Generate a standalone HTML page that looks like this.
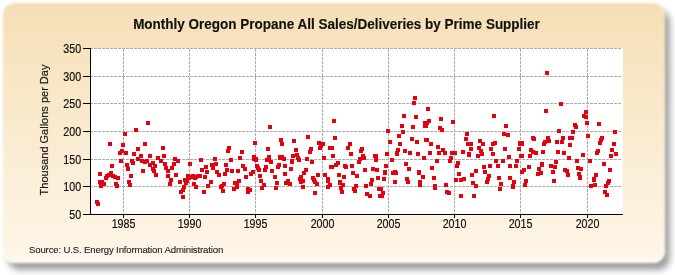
<!DOCTYPE html>
<html><head><meta charset="utf-8"><style>
html,body{margin:0;padding:0;background:#fff;width:675px;height:275px;overflow:hidden}
.box{position:absolute;left:3px;top:3px;width:662px;height:260px;border-radius:12px;
background:linear-gradient(to bottom,#f6dfb6 0%,#faebd0 50%,#fff5e6 95%,#fffaf0 100%);
box-shadow:5px 7px 6px rgba(0,0,0,0.38);filter:blur(1.3px)}
svg{position:absolute;left:0;top:0;will-change:transform}
.n{font-family:"Liberation Sans",sans-serif;font-size:12px;fill:#111;stroke:#111;stroke-width:0.2px}
.t{font-family:"Liberation Sans",sans-serif;font-size:11px;fill:#1a1a1a;stroke:#1a1a1a;stroke-width:0.2px}
.title{font-family:"Liberation Sans",sans-serif;font-size:14px;font-weight:bold;fill:#111;stroke:#111;stroke-width:0.15px}
.src{font-family:"Liberation Sans",sans-serif;font-size:9.6px;letter-spacing:-0.15px;fill:#1a1a1a;stroke:#1a1a1a;stroke-width:0.1px}
</style></head><body>
<div class="box"></div>
<svg width="675" height="275" viewBox="0 0 675 275" shape-rendering="crispEdges">
<text transform="translate(336.5,28.8) scale(0.964,1)" text-anchor="middle" class="title">Monthly Oregon Propane All Sales/Deliveries by Prime Supplier</text>
<text transform="translate(48,130) rotate(-90)" text-anchor="middle" class="t">Thousand Gallons per Day</text>
<text x="29" y="252.8" class="src">Source: U.S. Energy Information Administration</text>
<rect x="91" y="48" width="532" height="166" fill="#fff"/>
<line x1="91" y1="48.5" x2="622" y2="48.5" stroke="#acacac" stroke-width="1" stroke-dasharray="3,1" stroke-dashoffset="1"/>
<line x1="91" y1="76.5" x2="622" y2="76.5" stroke="#acacac" stroke-width="1" stroke-dasharray="3,1" stroke-dashoffset="1"/>
<line x1="91" y1="103.5" x2="622" y2="103.5" stroke="#acacac" stroke-width="1" stroke-dasharray="3,1" stroke-dashoffset="1"/>
<line x1="91" y1="131.5" x2="622" y2="131.5" stroke="#acacac" stroke-width="1" stroke-dasharray="3,1" stroke-dashoffset="1"/>
<line x1="91" y1="159.5" x2="622" y2="159.5" stroke="#acacac" stroke-width="1" stroke-dasharray="3,1" stroke-dashoffset="1"/>
<line x1="91" y1="186.5" x2="622" y2="186.5" stroke="#acacac" stroke-width="1" stroke-dasharray="3,1" stroke-dashoffset="1"/>
<line x1="123.5" y1="49" x2="123.5" y2="214" stroke="#acacac" stroke-width="1" stroke-dasharray="3,1"/>
<line x1="189.5" y1="49" x2="189.5" y2="214" stroke="#acacac" stroke-width="1" stroke-dasharray="3,1"/>
<line x1="255.5" y1="49" x2="255.5" y2="214" stroke="#acacac" stroke-width="1" stroke-dasharray="3,1"/>
<line x1="322.5" y1="49" x2="322.5" y2="214" stroke="#acacac" stroke-width="1" stroke-dasharray="3,1"/>
<line x1="388.5" y1="49" x2="388.5" y2="214" stroke="#acacac" stroke-width="1" stroke-dasharray="3,1"/>
<line x1="454.5" y1="49" x2="454.5" y2="214" stroke="#acacac" stroke-width="1" stroke-dasharray="3,1"/>
<line x1="520.5" y1="49" x2="520.5" y2="214" stroke="#acacac" stroke-width="1" stroke-dasharray="3,1"/>
<line x1="587.5" y1="49" x2="587.5" y2="214" stroke="#acacac" stroke-width="1" stroke-dasharray="3,1"/>
<rect x="145.7" y="121.0" width="4" height="4" fill="#e4000c"/>
<rect x="133.9" y="127.69999999999999" width="4" height="4" fill="#e4000c"/>
<rect x="122.8" y="131.7" width="4" height="4" fill="#e4000c"/>
<rect x="107.9" y="141.8" width="4" height="4" fill="#e4000c"/>
<rect x="120.9" y="142.8" width="4" height="4" fill="#e4000c"/>
<rect x="142.8" y="141.7" width="4" height="4" fill="#e4000c"/>
<rect x="160.9" y="145.7" width="4" height="4" fill="#e4000c"/>
<rect x="135.8" y="146.9" width="4" height="4" fill="#e4000c"/>
<rect x="119.8" y="148.5" width="4" height="4" fill="#e4000c"/>
<rect x="117.9" y="151.0" width="4" height="4" fill="#e4000c"/>
<rect x="123.8" y="151.0" width="4" height="4" fill="#e4000c"/>
<rect x="132.0" y="151.9" width="4" height="4" fill="#e4000c"/>
<rect x="138.5" y="153.7" width="4" height="4" fill="#e4000c"/>
<rect x="148.0" y="153.6" width="4" height="4" fill="#e4000c"/>
<rect x="161.9" y="153.6" width="4" height="4" fill="#e4000c"/>
<rect x="156.4" y="155.8" width="4" height="4" fill="#e4000c"/>
<rect x="136.4" y="156.5" width="4" height="4" fill="#e4000c"/>
<rect x="140.1" y="158.7" width="4" height="4" fill="#e4000c"/>
<rect x="143.1" y="159.5" width="4" height="4" fill="#e4000c"/>
<rect x="145.3" y="158.7" width="4" height="4" fill="#e4000c"/>
<rect x="158.6" y="158.7" width="4" height="4" fill="#e4000c"/>
<rect x="172.7" y="156.5" width="4" height="4" fill="#e4000c"/>
<rect x="176.4" y="158.7" width="4" height="4" fill="#e4000c"/>
<rect x="119.4" y="158.7" width="4" height="4" fill="#e4000c"/>
<rect x="129.7" y="158.7" width="4" height="4" fill="#e4000c"/>
<rect x="130.5" y="161.0" width="4" height="4" fill="#e4000c"/>
<rect x="150.5" y="161.0" width="4" height="4" fill="#e4000c"/>
<rect x="147.5" y="163.2" width="4" height="4" fill="#e4000c"/>
<rect x="152.7" y="163.9" width="4" height="4" fill="#e4000c"/>
<rect x="163.1" y="162.4" width="4" height="4" fill="#e4000c"/>
<rect x="172.0" y="161.7" width="4" height="4" fill="#e4000c"/>
<rect x="169.9" y="166.4" width="4" height="4" fill="#e4000c"/>
<rect x="164.4" y="165.9" width="4" height="4" fill="#e4000c"/>
<rect x="109.7" y="163.9" width="4" height="4" fill="#e4000c"/>
<rect x="124.9" y="162.9" width="4" height="4" fill="#e4000c"/>
<rect x="125.9" y="167.4" width="4" height="4" fill="#e4000c"/>
<rect x="140.9" y="168.9" width="4" height="4" fill="#e4000c"/>
<rect x="150.7" y="167.4" width="4" height="4" fill="#e4000c"/>
<rect x="153.6" y="172.9" width="4" height="4" fill="#e4000c"/>
<rect x="166.4" y="169.0" width="4" height="4" fill="#e4000c"/>
<rect x="166.4" y="173.7" width="4" height="4" fill="#e4000c"/>
<rect x="173.6" y="172.7" width="4" height="4" fill="#e4000c"/>
<rect x="188.4" y="161.8" width="4" height="4" fill="#e4000c"/>
<rect x="97.9" y="171.8" width="4" height="4" fill="#e4000c"/>
<rect x="108.6" y="170.5" width="4" height="4" fill="#e4000c"/>
<rect x="105.1" y="173.7" width="4" height="4" fill="#e4000c"/>
<rect x="111.2" y="173.5" width="4" height="4" fill="#e4000c"/>
<rect x="129.0" y="173.7" width="4" height="4" fill="#e4000c"/>
<rect x="185.8" y="173.6" width="4" height="4" fill="#e4000c"/>
<rect x="107.1" y="173.4" width="4" height="4" fill="#e4000c"/>
<rect x="113.4" y="174.5" width="4" height="4" fill="#e4000c"/>
<rect x="116.4" y="176.4" width="4" height="4" fill="#e4000c"/>
<rect x="103.8" y="176.4" width="4" height="4" fill="#e4000c"/>
<rect x="97.5" y="180.4" width="4" height="4" fill="#e4000c"/>
<rect x="100.1" y="179.7" width="4" height="4" fill="#e4000c"/>
<rect x="102.0" y="181.9" width="4" height="4" fill="#e4000c"/>
<rect x="99.4" y="183.8" width="4" height="4" fill="#e4000c"/>
<rect x="114.2" y="181.6" width="4" height="4" fill="#e4000c"/>
<rect x="114.9" y="184.1" width="4" height="4" fill="#e4000c"/>
<rect x="127.1" y="179.8" width="4" height="4" fill="#e4000c"/>
<rect x="128.1" y="182.8" width="4" height="4" fill="#e4000c"/>
<rect x="168.4" y="182.0" width="4" height="4" fill="#e4000c"/>
<rect x="168.6" y="178.1" width="4" height="4" fill="#e4000c"/>
<rect x="177.7" y="180.2" width="4" height="4" fill="#e4000c"/>
<rect x="183.9" y="181.2" width="4" height="4" fill="#e4000c"/>
<rect x="183.1" y="177.7" width="4" height="4" fill="#e4000c"/>
<rect x="186.8" y="175.5" width="4" height="4" fill="#e4000c"/>
<rect x="180.9" y="188.1" width="4" height="4" fill="#e4000c"/>
<rect x="179.4" y="190.3" width="4" height="4" fill="#e4000c"/>
<rect x="180.9" y="194.7" width="4" height="4" fill="#e4000c"/>
<rect x="94.9" y="199.9" width="4" height="4" fill="#e4000c"/>
<rect x="95.7" y="202.1" width="4" height="4" fill="#e4000c"/>
<rect x="152.0" y="169.0" width="4" height="4" fill="#e4000c"/>
<rect x="184.6" y="178.6" width="4" height="4" fill="#e4000c"/>
<rect x="182.0" y="184.5" width="4" height="4" fill="#e4000c"/>
<rect x="268.0" y="124.7" width="4" height="4" fill="#e4000c"/>
<rect x="252.7" y="140.9" width="4" height="4" fill="#e4000c"/>
<rect x="278.9" y="138.0" width="4" height="4" fill="#e4000c"/>
<rect x="280.2" y="141.8" width="4" height="4" fill="#e4000c"/>
<rect x="227.0" y="145.8" width="4" height="4" fill="#e4000c"/>
<rect x="265.9" y="146.9" width="4" height="4" fill="#e4000c"/>
<rect x="225.9" y="148.7" width="4" height="4" fill="#e4000c"/>
<rect x="198.8" y="157.7" width="4" height="4" fill="#e4000c"/>
<rect x="212.9" y="157.2" width="4" height="4" fill="#e4000c"/>
<rect x="228.6" y="157.6" width="4" height="4" fill="#e4000c"/>
<rect x="239.9" y="149.9" width="4" height="4" fill="#e4000c"/>
<rect x="237.7" y="156.1" width="4" height="4" fill="#e4000c"/>
<rect x="251.8" y="155.4" width="4" height="4" fill="#e4000c"/>
<rect x="254.39999999999998" y="156.9" width="4" height="4" fill="#e4000c"/>
<rect x="267.0" y="154.7" width="4" height="4" fill="#e4000c"/>
<rect x="264.9" y="158.0" width="4" height="4" fill="#e4000c"/>
<rect x="278.1" y="154.7" width="4" height="4" fill="#e4000c"/>
<rect x="281.8" y="156.8" width="4" height="4" fill="#e4000c"/>
<rect x="204.0" y="164.5" width="4" height="4" fill="#e4000c"/>
<rect x="209.9" y="163.0" width="4" height="4" fill="#e4000c"/>
<rect x="213.6" y="161.6" width="4" height="4" fill="#e4000c"/>
<rect x="211.0" y="165.6" width="4" height="4" fill="#e4000c"/>
<rect x="224.0" y="163.0" width="4" height="4" fill="#e4000c"/>
<rect x="199.9" y="168.2" width="4" height="4" fill="#e4000c"/>
<rect x="204.7" y="169.7" width="4" height="4" fill="#e4000c"/>
<rect x="215.1" y="169.7" width="4" height="4" fill="#e4000c"/>
<rect x="216.8" y="172.7" width="4" height="4" fill="#e4000c"/>
<rect x="225.1" y="167.9" width="4" height="4" fill="#e4000c"/>
<rect x="222.7" y="172.3" width="4" height="4" fill="#e4000c"/>
<rect x="230.3" y="169.3" width="4" height="4" fill="#e4000c"/>
<rect x="190.7" y="173.8" width="4" height="4" fill="#e4000c"/>
<rect x="195.9" y="173.8" width="4" height="4" fill="#e4000c"/>
<rect x="197.7" y="173.8" width="4" height="4" fill="#e4000c"/>
<rect x="202.9" y="174.7" width="4" height="4" fill="#e4000c"/>
<rect x="251.8" y="156.7" width="4" height="4" fill="#e4000c"/>
<rect x="254.0" y="158.2" width="4" height="4" fill="#e4000c"/>
<rect x="268.8" y="159.7" width="4" height="4" fill="#e4000c"/>
<rect x="266.6" y="156.7" width="4" height="4" fill="#e4000c"/>
<rect x="278.4" y="156.4" width="4" height="4" fill="#e4000c"/>
<rect x="241.4" y="163.8" width="4" height="4" fill="#e4000c"/>
<rect x="242.9" y="166.7" width="4" height="4" fill="#e4000c"/>
<rect x="235.9" y="169.0" width="4" height="4" fill="#e4000c"/>
<rect x="255.10000000000002" y="163.8" width="4" height="4" fill="#e4000c"/>
<rect x="256.2" y="166.0" width="4" height="4" fill="#e4000c"/>
<rect x="257.0" y="167.9" width="4" height="4" fill="#e4000c"/>
<rect x="264.0" y="164.5" width="4" height="4" fill="#e4000c"/>
<rect x="262.9" y="167.5" width="4" height="4" fill="#e4000c"/>
<rect x="270.3" y="169.0" width="4" height="4" fill="#e4000c"/>
<rect x="277.0" y="163.0" width="4" height="4" fill="#e4000c"/>
<rect x="275.9" y="165.3" width="4" height="4" fill="#e4000c"/>
<rect x="282.6" y="163.7" width="4" height="4" fill="#e4000c"/>
<rect x="250.7" y="169.7" width="4" height="4" fill="#e4000c"/>
<rect x="248.8" y="172.1" width="4" height="4" fill="#e4000c"/>
<rect x="244.0" y="174.7" width="4" height="4" fill="#e4000c"/>
<rect x="257.9" y="174.0" width="4" height="4" fill="#e4000c"/>
<rect x="272.9" y="174.7" width="4" height="4" fill="#e4000c"/>
<rect x="283.3" y="172.2" width="4" height="4" fill="#e4000c"/>
<rect x="246.2" y="186.9" width="4" height="4" fill="#e4000c"/>
<rect x="245.7" y="190.2" width="4" height="4" fill="#e4000c"/>
<rect x="232.7" y="180.8" width="4" height="4" fill="#e4000c"/>
<rect x="236.8" y="179.1" width="4" height="4" fill="#e4000c"/>
<rect x="232.1" y="186.5" width="4" height="4" fill="#e4000c"/>
<rect x="234.6" y="185.4" width="4" height="4" fill="#e4000c"/>
<rect x="258.8" y="178.7" width="4" height="4" fill="#e4000c"/>
<rect x="261.8" y="182.8" width="4" height="4" fill="#e4000c"/>
<rect x="259.7" y="186.0" width="4" height="4" fill="#e4000c"/>
<rect x="274.9" y="180.8" width="4" height="4" fill="#e4000c"/>
<rect x="273.6" y="185.8" width="4" height="4" fill="#e4000c"/>
<rect x="188.4" y="174.6" width="4" height="4" fill="#e4000c"/>
<rect x="191.4" y="175.3" width="4" height="4" fill="#e4000c"/>
<rect x="194.4" y="175.3" width="4" height="4" fill="#e4000c"/>
<rect x="192.9" y="176.4" width="4" height="4" fill="#e4000c"/>
<rect x="191.8" y="181.6" width="4" height="4" fill="#e4000c"/>
<rect x="194.0" y="185.0" width="4" height="4" fill="#e4000c"/>
<rect x="209.2" y="179.8" width="4" height="4" fill="#e4000c"/>
<rect x="206.4" y="183.7" width="4" height="4" fill="#e4000c"/>
<rect x="221.8" y="181.6" width="4" height="4" fill="#e4000c"/>
<rect x="219.6" y="183.5" width="4" height="4" fill="#e4000c"/>
<rect x="218.8" y="185.0" width="4" height="4" fill="#e4000c"/>
<rect x="221.0" y="188.7" width="4" height="4" fill="#e4000c"/>
<rect x="201.8" y="190.1" width="4" height="4" fill="#e4000c"/>
<rect x="235.1" y="180.9" width="4" height="4" fill="#e4000c"/>
<rect x="247.7" y="187.9" width="4" height="4" fill="#e4000c"/>
<rect x="283.6" y="180.9" width="4" height="4" fill="#e4000c"/>
<rect x="331.9" y="118.8" width="4" height="4" fill="#e4000c"/>
<rect x="292.0" y="138.8" width="4" height="4" fill="#e4000c"/>
<rect x="306.0" y="134.7" width="4" height="4" fill="#e4000c"/>
<rect x="317.1" y="141.0" width="4" height="4" fill="#e4000c"/>
<rect x="320.5" y="142.1" width="4" height="4" fill="#e4000c"/>
<rect x="332.9" y="135.9" width="4" height="4" fill="#e4000c"/>
<rect x="347.9" y="142.3" width="4" height="4" fill="#e4000c"/>
<rect x="293.8" y="147.9" width="4" height="4" fill="#e4000c"/>
<rect x="308.6" y="147.2" width="4" height="4" fill="#e4000c"/>
<rect x="307.5" y="149.8" width="4" height="4" fill="#e4000c"/>
<rect x="319.0" y="143.5" width="4" height="4" fill="#e4000c"/>
<rect x="318.3" y="146.4" width="4" height="4" fill="#e4000c"/>
<rect x="327.9" y="145.7" width="4" height="4" fill="#e4000c"/>
<rect x="279.7" y="155.0" width="4" height="4" fill="#e4000c"/>
<rect x="291.2" y="153.9" width="4" height="4" fill="#e4000c"/>
<rect x="294.9" y="153.1" width="4" height="4" fill="#e4000c"/>
<rect x="296.4" y="156.1" width="4" height="4" fill="#e4000c"/>
<rect x="297.1" y="157.9" width="4" height="4" fill="#e4000c"/>
<rect x="289.7" y="158.7" width="4" height="4" fill="#e4000c"/>
<rect x="304.9" y="156.8" width="4" height="4" fill="#e4000c"/>
<rect x="309.7" y="160.1" width="4" height="4" fill="#e4000c"/>
<rect x="322.0" y="155.7" width="4" height="4" fill="#e4000c"/>
<rect x="329.7" y="145.7" width="4" height="4" fill="#e4000c"/>
<rect x="345.7" y="145.7" width="4" height="4" fill="#e4000c"/>
<rect x="359.7" y="146.8" width="4" height="4" fill="#e4000c"/>
<rect x="359.0" y="149.0" width="4" height="4" fill="#e4000c"/>
<rect x="349.0" y="151.6" width="4" height="4" fill="#e4000c"/>
<rect x="330.9" y="153.9" width="4" height="4" fill="#e4000c"/>
<rect x="360.9" y="153.9" width="4" height="4" fill="#e4000c"/>
<rect x="362.3" y="155.7" width="4" height="4" fill="#e4000c"/>
<rect x="357.9" y="156.8" width="4" height="4" fill="#e4000c"/>
<rect x="356.8" y="160.1" width="4" height="4" fill="#e4000c"/>
<rect x="372.7" y="154.2" width="4" height="4" fill="#e4000c"/>
<rect x="374.3" y="157.7" width="4" height="4" fill="#e4000c"/>
<rect x="335.7" y="160.6" width="4" height="4" fill="#e4000c"/>
<rect x="289.7" y="160.4" width="4" height="4" fill="#e4000c"/>
<rect x="288.6" y="167.0" width="4" height="4" fill="#e4000c"/>
<rect x="303.8" y="167.8" width="4" height="4" fill="#e4000c"/>
<rect x="301.6" y="171.1" width="4" height="4" fill="#e4000c"/>
<rect x="298.6" y="174.8" width="4" height="4" fill="#e4000c"/>
<rect x="297.9" y="177.4" width="4" height="4" fill="#e4000c"/>
<rect x="300.5" y="178.9" width="4" height="4" fill="#e4000c"/>
<rect x="286.4" y="178.9" width="4" height="4" fill="#e4000c"/>
<rect x="315.7" y="172.6" width="4" height="4" fill="#e4000c"/>
<rect x="310.9" y="175.6" width="4" height="4" fill="#e4000c"/>
<rect x="312.3" y="178.1" width="4" height="4" fill="#e4000c"/>
<rect x="323.4" y="173.0" width="4" height="4" fill="#e4000c"/>
<rect x="326.0" y="177.4" width="4" height="4" fill="#e4000c"/>
<rect x="328.6" y="164.8" width="4" height="4" fill="#e4000c"/>
<rect x="333.8" y="163.0" width="4" height="4" fill="#e4000c"/>
<rect x="330.1" y="164.8" width="4" height="4" fill="#e4000c"/>
<rect x="343.1" y="163.7" width="4" height="4" fill="#e4000c"/>
<rect x="344.2" y="165.2" width="4" height="4" fill="#e4000c"/>
<rect x="349.7" y="164.1" width="4" height="4" fill="#e4000c"/>
<rect x="362.7" y="167.8" width="4" height="4" fill="#e4000c"/>
<rect x="370.9" y="167.0" width="4" height="4" fill="#e4000c"/>
<rect x="375.2" y="168.2" width="4" height="4" fill="#e4000c"/>
<rect x="336.8" y="173.0" width="4" height="4" fill="#e4000c"/>
<rect x="342.0" y="174.8" width="4" height="4" fill="#e4000c"/>
<rect x="350.9" y="170.7" width="4" height="4" fill="#e4000c"/>
<rect x="354.9" y="173.7" width="4" height="4" fill="#e4000c"/>
<rect x="376.1" y="176.0" width="4" height="4" fill="#e4000c"/>
<rect x="369.7" y="178.3" width="4" height="4" fill="#e4000c"/>
<rect x="337.9" y="179.6" width="4" height="4" fill="#e4000c"/>
<rect x="285.7" y="181.0" width="4" height="4" fill="#e4000c"/>
<rect x="287.9" y="181.7" width="4" height="4" fill="#e4000c"/>
<rect x="299.0" y="179.5" width="4" height="4" fill="#e4000c"/>
<rect x="300.5" y="184.7" width="4" height="4" fill="#e4000c"/>
<rect x="313.1" y="179.5" width="4" height="4" fill="#e4000c"/>
<rect x="314.6" y="182.4" width="4" height="4" fill="#e4000c"/>
<rect x="313.1" y="191.0" width="4" height="4" fill="#e4000c"/>
<rect x="326.4" y="178.7" width="4" height="4" fill="#e4000c"/>
<rect x="327.9" y="183.2" width="4" height="4" fill="#e4000c"/>
<rect x="326.4" y="185.4" width="4" height="4" fill="#e4000c"/>
<rect x="338.3" y="181.0" width="4" height="4" fill="#e4000c"/>
<rect x="341.2" y="183.2" width="4" height="4" fill="#e4000c"/>
<rect x="339.0" y="186.1" width="4" height="4" fill="#e4000c"/>
<rect x="339.7" y="189.9" width="4" height="4" fill="#e4000c"/>
<rect x="353.8" y="183.9" width="4" height="4" fill="#e4000c"/>
<rect x="351.6" y="186.9" width="4" height="4" fill="#e4000c"/>
<rect x="353.1" y="189.1" width="4" height="4" fill="#e4000c"/>
<rect x="364.2" y="183.9" width="4" height="4" fill="#e4000c"/>
<rect x="368.6" y="182.4" width="4" height="4" fill="#e4000c"/>
<rect x="364.9" y="192.1" width="4" height="4" fill="#e4000c"/>
<rect x="367.9" y="193.6" width="4" height="4" fill="#e4000c"/>
<rect x="376.9" y="186.7" width="4" height="4" fill="#e4000c"/>
<rect x="378.3" y="193.6" width="4" height="4" fill="#e4000c"/>
<rect x="412.8" y="95.8" width="4" height="4" fill="#e4000c"/>
<rect x="411.8" y="101.0" width="4" height="4" fill="#e4000c"/>
<rect x="425.9" y="106.9" width="4" height="4" fill="#e4000c"/>
<rect x="401.8" y="114.1" width="4" height="4" fill="#e4000c"/>
<rect x="413.9" y="114.9" width="4" height="4" fill="#e4000c"/>
<rect x="438.8" y="116.9" width="4" height="4" fill="#e4000c"/>
<rect x="399.9" y="124.0" width="4" height="4" fill="#e4000c"/>
<rect x="411.0" y="125.0" width="4" height="4" fill="#e4000c"/>
<rect x="422.9" y="121.4" width="4" height="4" fill="#e4000c"/>
<rect x="422.5" y="124.0" width="4" height="4" fill="#e4000c"/>
<rect x="385.9" y="128.8" width="4" height="4" fill="#e4000c"/>
<rect x="401.0" y="129.6" width="4" height="4" fill="#e4000c"/>
<rect x="397.0" y="133.5" width="4" height="4" fill="#e4000c"/>
<rect x="427.0" y="118.8" width="4" height="4" fill="#e4000c"/>
<rect x="424.7" y="121.4" width="4" height="4" fill="#e4000c"/>
<rect x="424.4" y="124.0" width="4" height="4" fill="#e4000c"/>
<rect x="450.7" y="119.9" width="4" height="4" fill="#e4000c"/>
<rect x="438.1" y="125.9" width="4" height="4" fill="#e4000c"/>
<rect x="439.9" y="127.69999999999999" width="4" height="4" fill="#e4000c"/>
<rect x="464.7" y="132.1" width="4" height="4" fill="#e4000c"/>
<rect x="409.9" y="136.8" width="4" height="4" fill="#e4000c"/>
<rect x="414.7" y="139.8" width="4" height="4" fill="#e4000c"/>
<rect x="423.6" y="137.9" width="4" height="4" fill="#e4000c"/>
<rect x="387.5" y="140.3" width="4" height="4" fill="#e4000c"/>
<rect x="398.1" y="141.6" width="4" height="4" fill="#e4000c"/>
<rect x="396.2" y="147.6" width="4" height="4" fill="#e4000c"/>
<rect x="402.9" y="148.7" width="4" height="4" fill="#e4000c"/>
<rect x="394.7" y="150.5" width="4" height="4" fill="#e4000c"/>
<rect x="384.7" y="151.6" width="4" height="4" fill="#e4000c"/>
<rect x="407.7" y="150.8" width="4" height="4" fill="#e4000c"/>
<rect x="415.9" y="151.6" width="4" height="4" fill="#e4000c"/>
<rect x="425.1" y="137.6" width="4" height="4" fill="#e4000c"/>
<rect x="428.8" y="141.6" width="4" height="4" fill="#e4000c"/>
<rect x="435.9" y="144.6" width="4" height="4" fill="#e4000c"/>
<rect x="440.7" y="148.3" width="4" height="4" fill="#e4000c"/>
<rect x="436.8" y="151.4" width="4" height="4" fill="#e4000c"/>
<rect x="442.5" y="151.4" width="4" height="4" fill="#e4000c"/>
<rect x="427.7" y="150.8" width="4" height="4" fill="#e4000c"/>
<rect x="450.3" y="150.8" width="4" height="4" fill="#e4000c"/>
<rect x="453.3" y="150.8" width="4" height="4" fill="#e4000c"/>
<rect x="460.9" y="150.1" width="4" height="4" fill="#e4000c"/>
<rect x="464.0" y="136.8" width="4" height="4" fill="#e4000c"/>
<rect x="465.9" y="141.6" width="4" height="4" fill="#e4000c"/>
<rect x="468.9" y="141.9" width="4" height="4" fill="#e4000c"/>
<rect x="469.1" y="147.4" width="4" height="4" fill="#e4000c"/>
<rect x="467.0" y="151.6" width="4" height="4" fill="#e4000c"/>
<rect x="395.1" y="151.9" width="4" height="4" fill="#e4000c"/>
<rect x="374.4" y="154.4" width="4" height="4" fill="#e4000c"/>
<rect x="389.9" y="157.8" width="4" height="4" fill="#e4000c"/>
<rect x="422.1" y="155.9" width="4" height="4" fill="#e4000c"/>
<rect x="404.0" y="161.9" width="4" height="4" fill="#e4000c"/>
<rect x="384.0" y="163.7" width="4" height="4" fill="#e4000c"/>
<rect x="407.0" y="166.7" width="4" height="4" fill="#e4000c"/>
<rect x="382.9" y="169.6" width="4" height="4" fill="#e4000c"/>
<rect x="392.5" y="169.6" width="4" height="4" fill="#e4000c"/>
<rect x="417.0" y="169.6" width="4" height="4" fill="#e4000c"/>
<rect x="467.0" y="153.0" width="4" height="4" fill="#e4000c"/>
<rect x="449.2" y="155.6" width="4" height="4" fill="#e4000c"/>
<rect x="448.1" y="158.5" width="4" height="4" fill="#e4000c"/>
<rect x="434.7" y="158.9" width="4" height="4" fill="#e4000c"/>
<rect x="455.9" y="160.7" width="4" height="4" fill="#e4000c"/>
<rect x="455.1" y="164.4" width="4" height="4" fill="#e4000c"/>
<rect x="429.9" y="165.9" width="4" height="4" fill="#e4000c"/>
<rect x="474.3" y="168.5" width="4" height="4" fill="#e4000c"/>
<rect x="382.9" y="171.0" width="4" height="4" fill="#e4000c"/>
<rect x="391.0" y="171.0" width="4" height="4" fill="#e4000c"/>
<rect x="394.0" y="171.0" width="4" height="4" fill="#e4000c"/>
<rect x="417.0" y="171.0" width="4" height="4" fill="#e4000c"/>
<rect x="382.1" y="177.2" width="4" height="4" fill="#e4000c"/>
<rect x="392.5" y="179.9" width="4" height="4" fill="#e4000c"/>
<rect x="405.1" y="176.9" width="4" height="4" fill="#e4000c"/>
<rect x="405.9" y="179.9" width="4" height="4" fill="#e4000c"/>
<rect x="420.7" y="174.7" width="4" height="4" fill="#e4000c"/>
<rect x="417.7" y="179.6" width="4" height="4" fill="#e4000c"/>
<rect x="418.4" y="182.8" width="4" height="4" fill="#e4000c"/>
<rect x="431.8" y="175.7" width="4" height="4" fill="#e4000c"/>
<rect x="433.3" y="183.6" width="4" height="4" fill="#e4000c"/>
<rect x="432.5" y="185.8" width="4" height="4" fill="#e4000c"/>
<rect x="443.6" y="182.8" width="4" height="4" fill="#e4000c"/>
<rect x="445.1" y="189.5" width="4" height="4" fill="#e4000c"/>
<rect x="446.6" y="191.0" width="4" height="4" fill="#e4000c"/>
<rect x="379.2" y="186.5" width="4" height="4" fill="#e4000c"/>
<rect x="380.7" y="191.0" width="4" height="4" fill="#e4000c"/>
<rect x="379.9" y="193.9" width="4" height="4" fill="#e4000c"/>
<rect x="457.0" y="172.4" width="4" height="4" fill="#e4000c"/>
<rect x="454.0" y="177.6" width="4" height="4" fill="#e4000c"/>
<rect x="459.2" y="177.6" width="4" height="4" fill="#e4000c"/>
<rect x="462.1" y="176.9" width="4" height="4" fill="#e4000c"/>
<rect x="470.0" y="172.9" width="4" height="4" fill="#e4000c"/>
<rect x="470.8" y="180.7" width="4" height="4" fill="#e4000c"/>
<rect x="473.7" y="183.6" width="4" height="4" fill="#e4000c"/>
<rect x="458.7" y="193.9" width="4" height="4" fill="#e4000c"/>
<rect x="471.9" y="193.9" width="4" height="4" fill="#e4000c"/>
<rect x="492.0" y="113.9" width="4" height="4" fill="#e4000c"/>
<rect x="503.8" y="124.1" width="4" height="4" fill="#e4000c"/>
<rect x="543.8" y="108.7" width="4" height="4" fill="#e4000c"/>
<rect x="558.6" y="101.8" width="4" height="4" fill="#e4000c"/>
<rect x="502.0" y="131.8" width="4" height="4" fill="#e4000c"/>
<rect x="505.7" y="132.9" width="4" height="4" fill="#e4000c"/>
<rect x="477.9" y="138.8" width="4" height="4" fill="#e4000c"/>
<rect x="480.9" y="142.1" width="4" height="4" fill="#e4000c"/>
<rect x="490.7" y="141.5" width="4" height="4" fill="#e4000c"/>
<rect x="493.1" y="141.0" width="4" height="4" fill="#e4000c"/>
<rect x="517.9" y="141.0" width="4" height="4" fill="#e4000c"/>
<rect x="556.8" y="128.8" width="4" height="4" fill="#e4000c"/>
<rect x="530.9" y="135.9" width="4" height="4" fill="#e4000c"/>
<rect x="532.3" y="137.0" width="4" height="4" fill="#e4000c"/>
<rect x="545.7" y="135.5" width="4" height="4" fill="#e4000c"/>
<rect x="547.1" y="138.8" width="4" height="4" fill="#e4000c"/>
<rect x="542.7" y="139.9" width="4" height="4" fill="#e4000c"/>
<rect x="541.6" y="142.3" width="4" height="4" fill="#e4000c"/>
<rect x="554.9" y="139.6" width="4" height="4" fill="#e4000c"/>
<rect x="560.9" y="135.5" width="4" height="4" fill="#e4000c"/>
<rect x="560.1" y="139.6" width="4" height="4" fill="#e4000c"/>
<rect x="519.7" y="140.7" width="4" height="4" fill="#e4000c"/>
<rect x="568.3" y="136.2" width="4" height="4" fill="#e4000c"/>
<rect x="567.7" y="142.8" width="4" height="4" fill="#e4000c"/>
<rect x="517.5" y="142.4" width="4" height="4" fill="#e4000c"/>
<rect x="476.8" y="146.4" width="4" height="4" fill="#e4000c"/>
<rect x="479.0" y="148.7" width="4" height="4" fill="#e4000c"/>
<rect x="480.1" y="152.4" width="4" height="4" fill="#e4000c"/>
<rect x="476.0" y="153.9" width="4" height="4" fill="#e4000c"/>
<rect x="489.0" y="146.8" width="4" height="4" fill="#e4000c"/>
<rect x="490.9" y="151.6" width="4" height="4" fill="#e4000c"/>
<rect x="503.1" y="146.8" width="4" height="4" fill="#e4000c"/>
<rect x="516.8" y="146.8" width="4" height="4" fill="#e4000c"/>
<rect x="506.8" y="155.0" width="4" height="4" fill="#e4000c"/>
<rect x="493.8" y="158.7" width="4" height="4" fill="#e4000c"/>
<rect x="500.9" y="158.7" width="4" height="4" fill="#e4000c"/>
<rect x="514.9" y="158.7" width="4" height="4" fill="#e4000c"/>
<rect x="518.6" y="153.9" width="4" height="4" fill="#e4000c"/>
<rect x="519.7" y="142.4" width="4" height="4" fill="#e4000c"/>
<rect x="529.0" y="147.9" width="4" height="4" fill="#e4000c"/>
<rect x="531.2" y="149.8" width="4" height="4" fill="#e4000c"/>
<rect x="533.8" y="151.3" width="4" height="4" fill="#e4000c"/>
<rect x="527.9" y="153.9" width="4" height="4" fill="#e4000c"/>
<rect x="520.1" y="153.9" width="4" height="4" fill="#e4000c"/>
<rect x="540.9" y="149.8" width="4" height="4" fill="#e4000c"/>
<rect x="555.7" y="149.8" width="4" height="4" fill="#e4000c"/>
<rect x="562.0" y="150.9" width="4" height="4" fill="#e4000c"/>
<rect x="567.0" y="155.7" width="4" height="4" fill="#e4000c"/>
<rect x="554.0" y="159.9" width="4" height="4" fill="#e4000c"/>
<rect x="540.1" y="161.6" width="4" height="4" fill="#e4000c"/>
<rect x="482.0" y="164.7" width="4" height="4" fill="#e4000c"/>
<rect x="488.0" y="163.7" width="4" height="4" fill="#e4000c"/>
<rect x="495.7" y="163.7" width="4" height="4" fill="#e4000c"/>
<rect x="507.8" y="163.7" width="4" height="4" fill="#e4000c"/>
<rect x="513.7" y="163.7" width="4" height="4" fill="#e4000c"/>
<rect x="483.1" y="170.1" width="4" height="4" fill="#e4000c"/>
<rect x="486.8" y="174.1" width="4" height="4" fill="#e4000c"/>
<rect x="486.0" y="177.0" width="4" height="4" fill="#e4000c"/>
<rect x="485.0" y="180.0" width="4" height="4" fill="#e4000c"/>
<rect x="496.9" y="175.6" width="4" height="4" fill="#e4000c"/>
<rect x="499.4" y="182.2" width="4" height="4" fill="#e4000c"/>
<rect x="497.9" y="186.7" width="4" height="4" fill="#e4000c"/>
<rect x="508.3" y="176.3" width="4" height="4" fill="#e4000c"/>
<rect x="512.0" y="180.0" width="4" height="4" fill="#e4000c"/>
<rect x="510.5" y="183.7" width="4" height="4" fill="#e4000c"/>
<rect x="511.20000000000005" y="185.2" width="4" height="4" fill="#e4000c"/>
<rect x="521.6" y="168.1" width="4" height="4" fill="#e4000c"/>
<rect x="520.1" y="170.4" width="4" height="4" fill="#e4000c"/>
<rect x="526.8" y="164.7" width="4" height="4" fill="#e4000c"/>
<rect x="523.8" y="179.3" width="4" height="4" fill="#e4000c"/>
<rect x="523.1" y="183.0" width="4" height="4" fill="#e4000c"/>
<rect x="540.1" y="163.0" width="4" height="4" fill="#e4000c"/>
<rect x="537.1" y="167.4" width="4" height="4" fill="#e4000c"/>
<rect x="535.7" y="171.9" width="4" height="4" fill="#e4000c"/>
<rect x="539.4" y="171.1" width="4" height="4" fill="#e4000c"/>
<rect x="549.0" y="163.7" width="4" height="4" fill="#e4000c"/>
<rect x="553.4" y="165.2" width="4" height="4" fill="#e4000c"/>
<rect x="550.5" y="169.6" width="4" height="4" fill="#e4000c"/>
<rect x="552.0" y="178.5" width="4" height="4" fill="#e4000c"/>
<rect x="563.1" y="168.1" width="4" height="4" fill="#e4000c"/>
<rect x="566.0" y="172.7" width="4" height="4" fill="#e4000c"/>
<rect x="544.9" y="70.8" width="4" height="4" fill="#e4000c"/>
<rect x="583.7" y="109.9" width="4" height="4" fill="#e4000c"/>
<rect x="582.2" y="113.7" width="4" height="4" fill="#e4000c"/>
<rect x="584.4" y="115.2" width="4" height="4" fill="#e4000c"/>
<rect x="584.9" y="121.0" width="4" height="4" fill="#e4000c"/>
<rect x="596.9" y="121.9" width="4" height="4" fill="#e4000c"/>
<rect x="572.9" y="122.8" width="4" height="4" fill="#e4000c"/>
<rect x="573.8" y="125.0" width="4" height="4" fill="#e4000c"/>
<rect x="571.1" y="129.9" width="4" height="4" fill="#e4000c"/>
<rect x="612.9" y="129.9" width="4" height="4" fill="#e4000c"/>
<rect x="569.8" y="135.7" width="4" height="4" fill="#e4000c"/>
<rect x="586.2" y="133.9" width="4" height="4" fill="#e4000c"/>
<rect x="599.8" y="135.9" width="4" height="4" fill="#e4000c"/>
<rect x="598.7" y="138.3" width="4" height="4" fill="#e4000c"/>
<rect x="597.8" y="141.0" width="4" height="4" fill="#e4000c"/>
<rect x="612.0" y="141.9" width="4" height="4" fill="#e4000c"/>
<rect x="596.0" y="149.0" width="4" height="4" fill="#e4000c"/>
<rect x="595.1" y="150.8" width="4" height="4" fill="#e4000c"/>
<rect x="609.8" y="147.7" width="4" height="4" fill="#e4000c"/>
<rect x="613.8" y="151.7" width="4" height="4" fill="#e4000c"/>
<rect x="608.9" y="153.9" width="4" height="4" fill="#e4000c"/>
<rect x="580.9" y="153.2" width="4" height="4" fill="#e4000c"/>
<rect x="575.1" y="158.8" width="4" height="4" fill="#e4000c"/>
<rect x="588.0" y="158.8" width="4" height="4" fill="#e4000c"/>
<rect x="601.8" y="161.9" width="4" height="4" fill="#e4000c"/>
<rect x="576.0" y="165.9" width="4" height="4" fill="#e4000c"/>
<rect x="579.1" y="166.8" width="4" height="4" fill="#e4000c"/>
<rect x="608.0" y="167.7" width="4" height="4" fill="#e4000c"/>
<rect x="564.9" y="168.6" width="4" height="4" fill="#e4000c"/>
<rect x="576.9" y="172.1" width="4" height="4" fill="#e4000c"/>
<rect x="577.6" y="174.8" width="4" height="4" fill="#e4000c"/>
<rect x="593.8" y="173.2" width="4" height="4" fill="#e4000c"/>
<rect x="591.6" y="176.6" width="4" height="4" fill="#e4000c"/>
<rect x="578.2" y="176.1" width="4" height="4" fill="#e4000c"/>
<rect x="592.0" y="177.9" width="4" height="4" fill="#e4000c"/>
<rect x="588.9" y="183.7" width="4" height="4" fill="#e4000c"/>
<rect x="592.9" y="182.8" width="4" height="4" fill="#e4000c"/>
<rect x="607.1" y="178.8" width="4" height="4" fill="#e4000c"/>
<rect x="605.8" y="181.4" width="4" height="4" fill="#e4000c"/>
<rect x="604.0" y="183.7" width="4" height="4" fill="#e4000c"/>
<rect x="603.1" y="189.9" width="4" height="4" fill="#e4000c"/>
<rect x="604.9" y="193.0" width="4" height="4" fill="#e4000c"/>
<line x1="90.5" y1="48" x2="90.5" y2="215" stroke="#000"/>
<line x1="90" y1="214.5" x2="623" y2="214.5" stroke="#000"/>
<line x1="83" y1="48.5" x2="90" y2="48.5" stroke="#000"/>
<text transform="translate(81.1,52.6) scale(0.89,1)" text-anchor="end" class="n">350</text>
<line x1="83" y1="76.5" x2="90" y2="76.5" stroke="#000"/>
<text transform="translate(81.1,80.6) scale(0.89,1)" text-anchor="end" class="n">300</text>
<line x1="83" y1="103.5" x2="90" y2="103.5" stroke="#000"/>
<text transform="translate(81.1,107.6) scale(0.89,1)" text-anchor="end" class="n">250</text>
<line x1="83" y1="131.5" x2="90" y2="131.5" stroke="#000"/>
<text transform="translate(81.1,135.6) scale(0.89,1)" text-anchor="end" class="n">200</text>
<line x1="83" y1="159.5" x2="90" y2="159.5" stroke="#000"/>
<text transform="translate(81.1,163.6) scale(0.89,1)" text-anchor="end" class="n">150</text>
<line x1="83" y1="186.5" x2="90" y2="186.5" stroke="#000"/>
<text transform="translate(81.1,190.6) scale(0.89,1)" text-anchor="end" class="n">100</text>
<line x1="83" y1="214.5" x2="90" y2="214.5" stroke="#000"/>
<text transform="translate(81.1,218.6) scale(0.89,1)" text-anchor="end" class="n">50</text>
<line x1="123.5" y1="215" x2="123.5" y2="218" stroke="#000"/>
<text transform="translate(123.5,227.6) scale(0.89,1)" text-anchor="middle" class="n">1985</text>
<line x1="189.5" y1="215" x2="189.5" y2="218" stroke="#000"/>
<text transform="translate(189.5,227.6) scale(0.89,1)" text-anchor="middle" class="n">1990</text>
<line x1="255.5" y1="215" x2="255.5" y2="218" stroke="#000"/>
<text transform="translate(255.5,227.6) scale(0.89,1)" text-anchor="middle" class="n">1995</text>
<line x1="322.5" y1="215" x2="322.5" y2="218" stroke="#000"/>
<text transform="translate(322.5,227.6) scale(0.89,1)" text-anchor="middle" class="n">2000</text>
<line x1="388.5" y1="215" x2="388.5" y2="218" stroke="#000"/>
<text transform="translate(388.5,227.6) scale(0.89,1)" text-anchor="middle" class="n">2005</text>
<line x1="454.5" y1="215" x2="454.5" y2="218" stroke="#000"/>
<text transform="translate(454.5,227.6) scale(0.89,1)" text-anchor="middle" class="n">2010</text>
<line x1="520.5" y1="215" x2="520.5" y2="218" stroke="#000"/>
<text transform="translate(520.5,227.6) scale(0.89,1)" text-anchor="middle" class="n">2015</text>
<line x1="587.5" y1="215" x2="587.5" y2="218" stroke="#000"/>
<text transform="translate(587.5,227.6) scale(0.89,1)" text-anchor="middle" class="n">2020</text>
</svg>
</body></html>
